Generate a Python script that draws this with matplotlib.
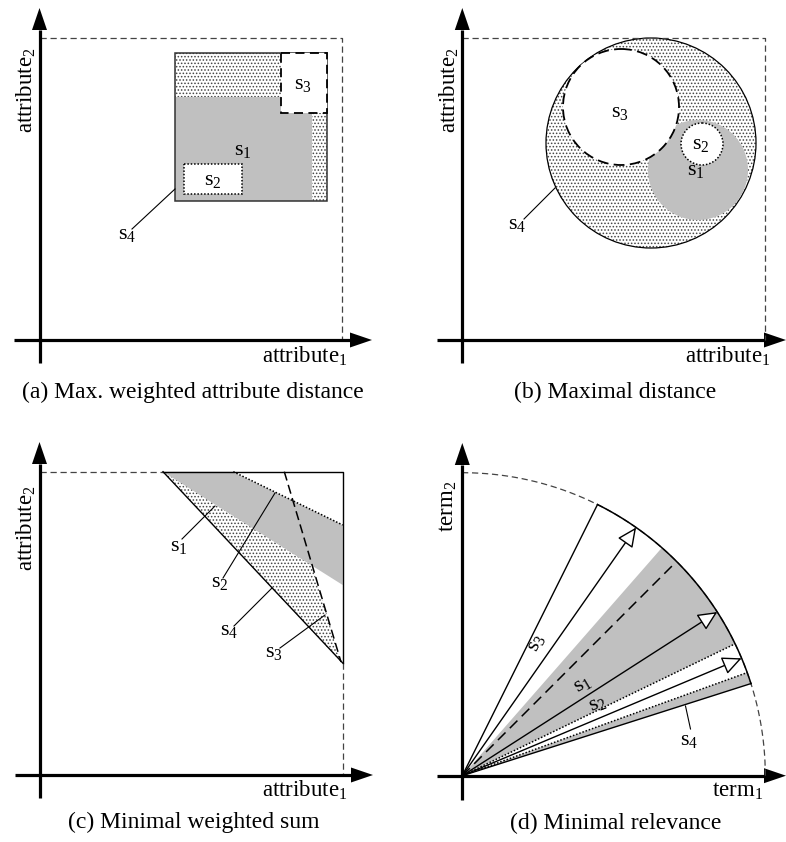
import numpy as np
import matplotlib
matplotlib.use("Agg")
import matplotlib.pyplot as plt
from matplotlib.patches import Polygon, Rectangle, Circle

plt.rcParams['font.family'] = ['Liberation Serif', 'DejaVu Serif']
plt.rcParams['mathtext.fontset'] = 'custom'
plt.rcParams['mathtext.rm'] = 'Liberation Serif'
plt.rcParams['mathtext.it'] = 'Liberation Serif:italic'
plt.rcParams['hatch.linewidth'] = 0.7

# %% Data (pixel geometry of the schematic)
GREY = '#c0c0c0'
DOTS = '.....'

captions = ['(a) Max. weighted attribute distance', '(b) Maximal distance',
            '(c) Minimal weighted sum', '(d) Minimal relevance']
caption_xy = [(193, 392), (615, 392), (194, 822), (616, 823)]

# axis origins and extents: (ox, oy, x_start, x_tip, y_start, y_tip)
axes_geo = [(39.5, 340, 14, 372, 363, 8),
            (462.3, 340, 437, 786, 363, 8),
            (39.5, 775, 15, 373, 798, 442),
            (462.3, 775.7, 437, 786, 800, 443)]
xlabels = ['attribute$_1$', 'attribute$_1$', 'attribute$_1$', 'term$_1$']
xlabel_xy = [(347, 363), (770, 363), (347, 797), (763, 797)]
ylabels = ['attribute$_2$', 'attribute$_2$', 'attribute$_2$', 'term$_2$']
ylabel_xy = [(26, 90), (449, 90), (26, 528), (448, 506)]

# (a) rectangles x0, y0, x1, y1
a_bound = (39.5, 38, 342, 340)
a_s4 = (175, 53, 327, 201)
a_s1 = (175, 97, 312, 201)
a_s3 = (281, 53, 327, 113)
a_s2 = (184, 164, 242, 194)
a_labels = {'s$_1$': (243, 150), 's$_2$': (213, 181), 's$_3$': (303, 85), 's$_4$': (127, 234)}
a_leader = [(175, 189), (132, 229)]

# (b) circles cx, cy, r
b_bound = (462.3, 38, 765, 340)
b_s4 = (651, 143, 105)
b_s3 = (621, 107, 58)
b_s1 = (698, 170, 50)
b_s2 = (702, 144, 21)
b_labels = {'s$_1$': (696, 171), 's$_2$': (701, 145), 's$_3$': (620, 113), 's$_4$': (517, 225)}
b_leader = [(555, 188), (524, 219)]

# (c) half planes
c_top = 471.7
c_right = 342.7
c_diag = [(163, 471.7), (342.7, 663)]
c_dashed = [(284.3, 471.7), (341, 662)]
c_grey = [(163, 471.7), (233.3, 471.7), (342.7, 525), (342.7, 585)]
c_dotted_edge = [(233.3, 471.7), (342.7, 525)]
c_labels = {'s$_1$': (179, 547), 's$_2$': (220, 583), 's$_4$': (229, 630), 's$_3$': (274, 653)}
c_leaders = [[(182, 539), (215, 506)], [(223, 578), (275, 493)],
             [(234, 626), (272, 588)], [(280, 648), (325, 615)]]

# (d) rays (degrees) and radius
d_radius = 303
d_s3_edge = 63.5
d_s3_vec = 55.0
d_s1_edge = 48.8
d_s1_dash = 45.0
d_s1_vec = 32.7
d_s2_up = 25.8
d_s2_vec = 22.8
d_s2_low = 19.9
d_s4_low = 17.7
d_labels = [('s$_3$', (537, 643), 63.5), ('s$_1$', (583, 684), 31),
            ('s$_2$', (598, 704), 22)]
d_s4_label = (689, 740)
d_s4_leader = [(690.5, 729), (685.5, 706)]


# %% Helpers
def axis_arrows(ax, ox, oy, x0, x1, y0, y1, hl=22, hw=15):
    ax.plot([x0, x1 - hl], [oy, oy], color='black', lw=2.3, solid_capstyle='butt')
    ax.plot([ox, ox], [y0, y1 + hl], color='black', lw=2.3, solid_capstyle='butt')
    ax.add_patch(Polygon([(x1, oy), (x1 - hl, oy - hw / 2), (x1 - hl, oy + hw / 2)],
                         closed=True, color='black', lw=0))
    ax.add_patch(Polygon([(ox, y1), (ox - hw / 2, y1 + hl), (ox + hw / 2, y1 + hl)],
                         closed=True, color='black', lw=0))


def dotted_fill(ax, patch):
    patch.set_facecolor('white')
    patch.set_edgecolor('#454545')
    patch.set_hatch(DOTS)
    patch.set_linewidth(0)
    ax.add_patch(patch)


def ray_pt(o, ang, r):
    t = np.deg2rad(ang)
    return (o[0] + r * np.cos(t), o[1] - r * np.sin(t))


# %% Plot
fig = plt.figure(figsize=(7.86, 8.42), dpi=100)
ax = fig.add_axes([0, 0, 1, 1])
ax.set_xlim(0, 786)
ax.set_ylim(842, 0)
ax.axis('off')

dash_kw = dict(color='#444444', lw=0.9, ls=(0, (5, 3)))
lab_fs = 16

# ---- (a)
x0, y0, x1, y1 = a_bound
ax.plot([x0, x1, x1], [y0, y0, y1], **dash_kw)
r = a_s4
dotted_fill(ax, Rectangle((r[0], r[1]), r[2] - r[0], r[3] - r[1]))
r = a_s1
ax.add_patch(Rectangle((r[0], r[1]), r[2] - r[0], r[3] - r[1], fc=GREY, lw=0))
r = a_s4
ax.add_patch(Rectangle((r[0], r[1]), r[2] - r[0], r[3] - r[1], fc='none', ec='#333333', lw=1.1))
r = a_s3
ax.add_patch(Rectangle((r[0], r[1]), r[2] - r[0], r[3] - r[1], fc='white', ec='black',
                       lw=1.3, ls=(0, (5, 3))))
r = a_s2
ax.add_patch(Rectangle((r[0], r[1]), r[2] - r[0], r[3] - r[1], fc='white', ec='black',
                       lw=1.1, ls=(0, (1, 1.2))))
for t, (x, y) in a_labels.items():
    ax.text(x, y, t, fontsize=lab_fs, ha='center', va='center')
ax.plot(*zip(*a_leader), color='black', lw=0.8)

# ---- (b)
x0, y0, x1, y1 = b_bound
ax.plot([x0, x1, x1], [y0, y0, y1], **dash_kw)
dotted_fill(ax, Circle(b_s4[:2], b_s4[2]))
ax.add_patch(Circle(b_s4[:2], b_s4[2], fc='none', ec='black', lw=0.9))
ax.add_patch(Circle(b_s1[:2], b_s1[2], fc=GREY, lw=0))
ax.add_patch(Circle(b_s3[:2], b_s3[2], fc='white', ec='black', lw=1.3, ls=(0, (6, 3))))
ax.add_patch(Circle(b_s2[:2], b_s2[2], fc='white', ec='black', lw=1.1, ls=(0, (1, 1.2))))
for t, (x, y) in b_labels.items():
    ax.text(x, y, t, fontsize=lab_fs, ha='center', va='center')
ax.plot(*zip(*b_leader), color='black', lw=0.8)

# ---- (c)
ox, oy = axes_geo[2][:2]
ax.plot([ox, c_diag[0][0]], [c_top, c_top], **dash_kw)
ax.plot([c_right, c_right], [c_diag[1][1], oy], **dash_kw)
dotted_fill(ax, Polygon([c_diag[0], c_dashed[0], c_dashed[1]], closed=True))
ax.add_patch(Polygon(c_grey, closed=True, fc=GREY, lw=0))
# white corner above the s2 boundary
ax.add_patch(Polygon([c_dotted_edge[0], (c_right, c_top), c_dotted_edge[1]],
                     closed=True, fc='white', lw=0))
ax.plot([c_diag[0][0], c_right, c_right], [c_top, c_top, c_diag[1][1]], color='black', lw=1.0)
ax.plot(*zip(*c_diag), color='black', lw=1.0)
ax.plot(*zip(*c_dashed), color='black', lw=1.1, ls=(0, (6, 3)))
ax.plot(*zip(*c_dotted_edge), color='black', lw=1.1, ls=(0, (1, 1.2)))
for t, (x, y) in c_labels.items():
    ax.text(x, y, t, fontsize=lab_fs, ha='center', va='center')
for seg in c_leaders:
    ax.plot(*zip(*seg), color='black', lw=0.8)

# ---- (d)
o = axes_geo[3][:2]
R = d_radius
t_all = np.linspace(0, 90, 200)
arc = np.array([ray_pt(o, a, R) for a in t_all])
ax.plot(arc[:, 0], arc[:, 1], **dash_kw)
t_solid = np.linspace(d_s4_low, d_s3_edge, 120)
arc = np.array([ray_pt(o, a, R) for a in t_solid])
ax.plot(arc[:, 0], arc[:, 1], color='black', lw=1.1)

t_grey = np.linspace(d_s4_low, d_s1_edge, 80)
ax.add_patch(Polygon([o] + [ray_pt(o, a, R) for a in t_grey], closed=True, fc=GREY, lw=0))
t_white = np.linspace(d_s2_low, d_s2_up, 40)
ax.add_patch(Polygon([o] + [ray_pt(o, a, R) for a in t_white], closed=True, fc='white', lw=0))

for a in (d_s3_edge, d_s4_low):
    p = ray_pt(o, a, R)
    ax.plot([o[0], p[0]], [o[1], p[1]], color='black', lw=1.0)
for a in (d_s2_up, d_s2_low):
    p = ray_pt(o, a, R)
    ax.plot([o[0], p[0]], [o[1], p[1]], color='black', lw=1.1, ls=(0, (1, 1.2)))
p = ray_pt(o, d_s1_dash, R)
ax.plot([o[0], p[0]], [o[1], p[1]], color='black', lw=1.1, ls=(0, (7, 4)))
for a in (d_s3_vec, d_s1_vec, d_s2_vec):
    p = ray_pt(o, a, R)
    ax.annotate('', xy=p, xytext=o,
                arrowprops=dict(arrowstyle='-|>,head_length=0.6,head_width=0.28',
                                fc='white', ec='black', lw=1.0, shrinkA=0, shrinkB=0,
                                mutation_scale=20))
for t, (x, y), rot in d_labels:
    ax.text(x, y, t, fontsize=lab_fs, ha='center', va='center', rotation=rot)
ax.text(*d_s4_label, 's$_4$', fontsize=lab_fs, ha='center', va='center')
ax.plot(*zip(*d_s4_leader), color='black', lw=0.8)

# ---- axes, labels, captions
for i, (ox, oy, xa, xb, ya, yb) in enumerate(axes_geo):
    axis_arrows(ax, ox, oy, xa, xb, ya, yb)
    ax.text(*xlabel_xy[i], xlabels[i], fontsize=16.5, ha='right', va='baseline')
    ax.text(*ylabel_xy[i], ylabels[i], fontsize=16.5, ha='center', va='center', rotation=90)
    ax.text(*caption_xy[i], captions[i], fontsize=17, ha='center', va='center')

fig.savefig('out.png', dpi=100)
